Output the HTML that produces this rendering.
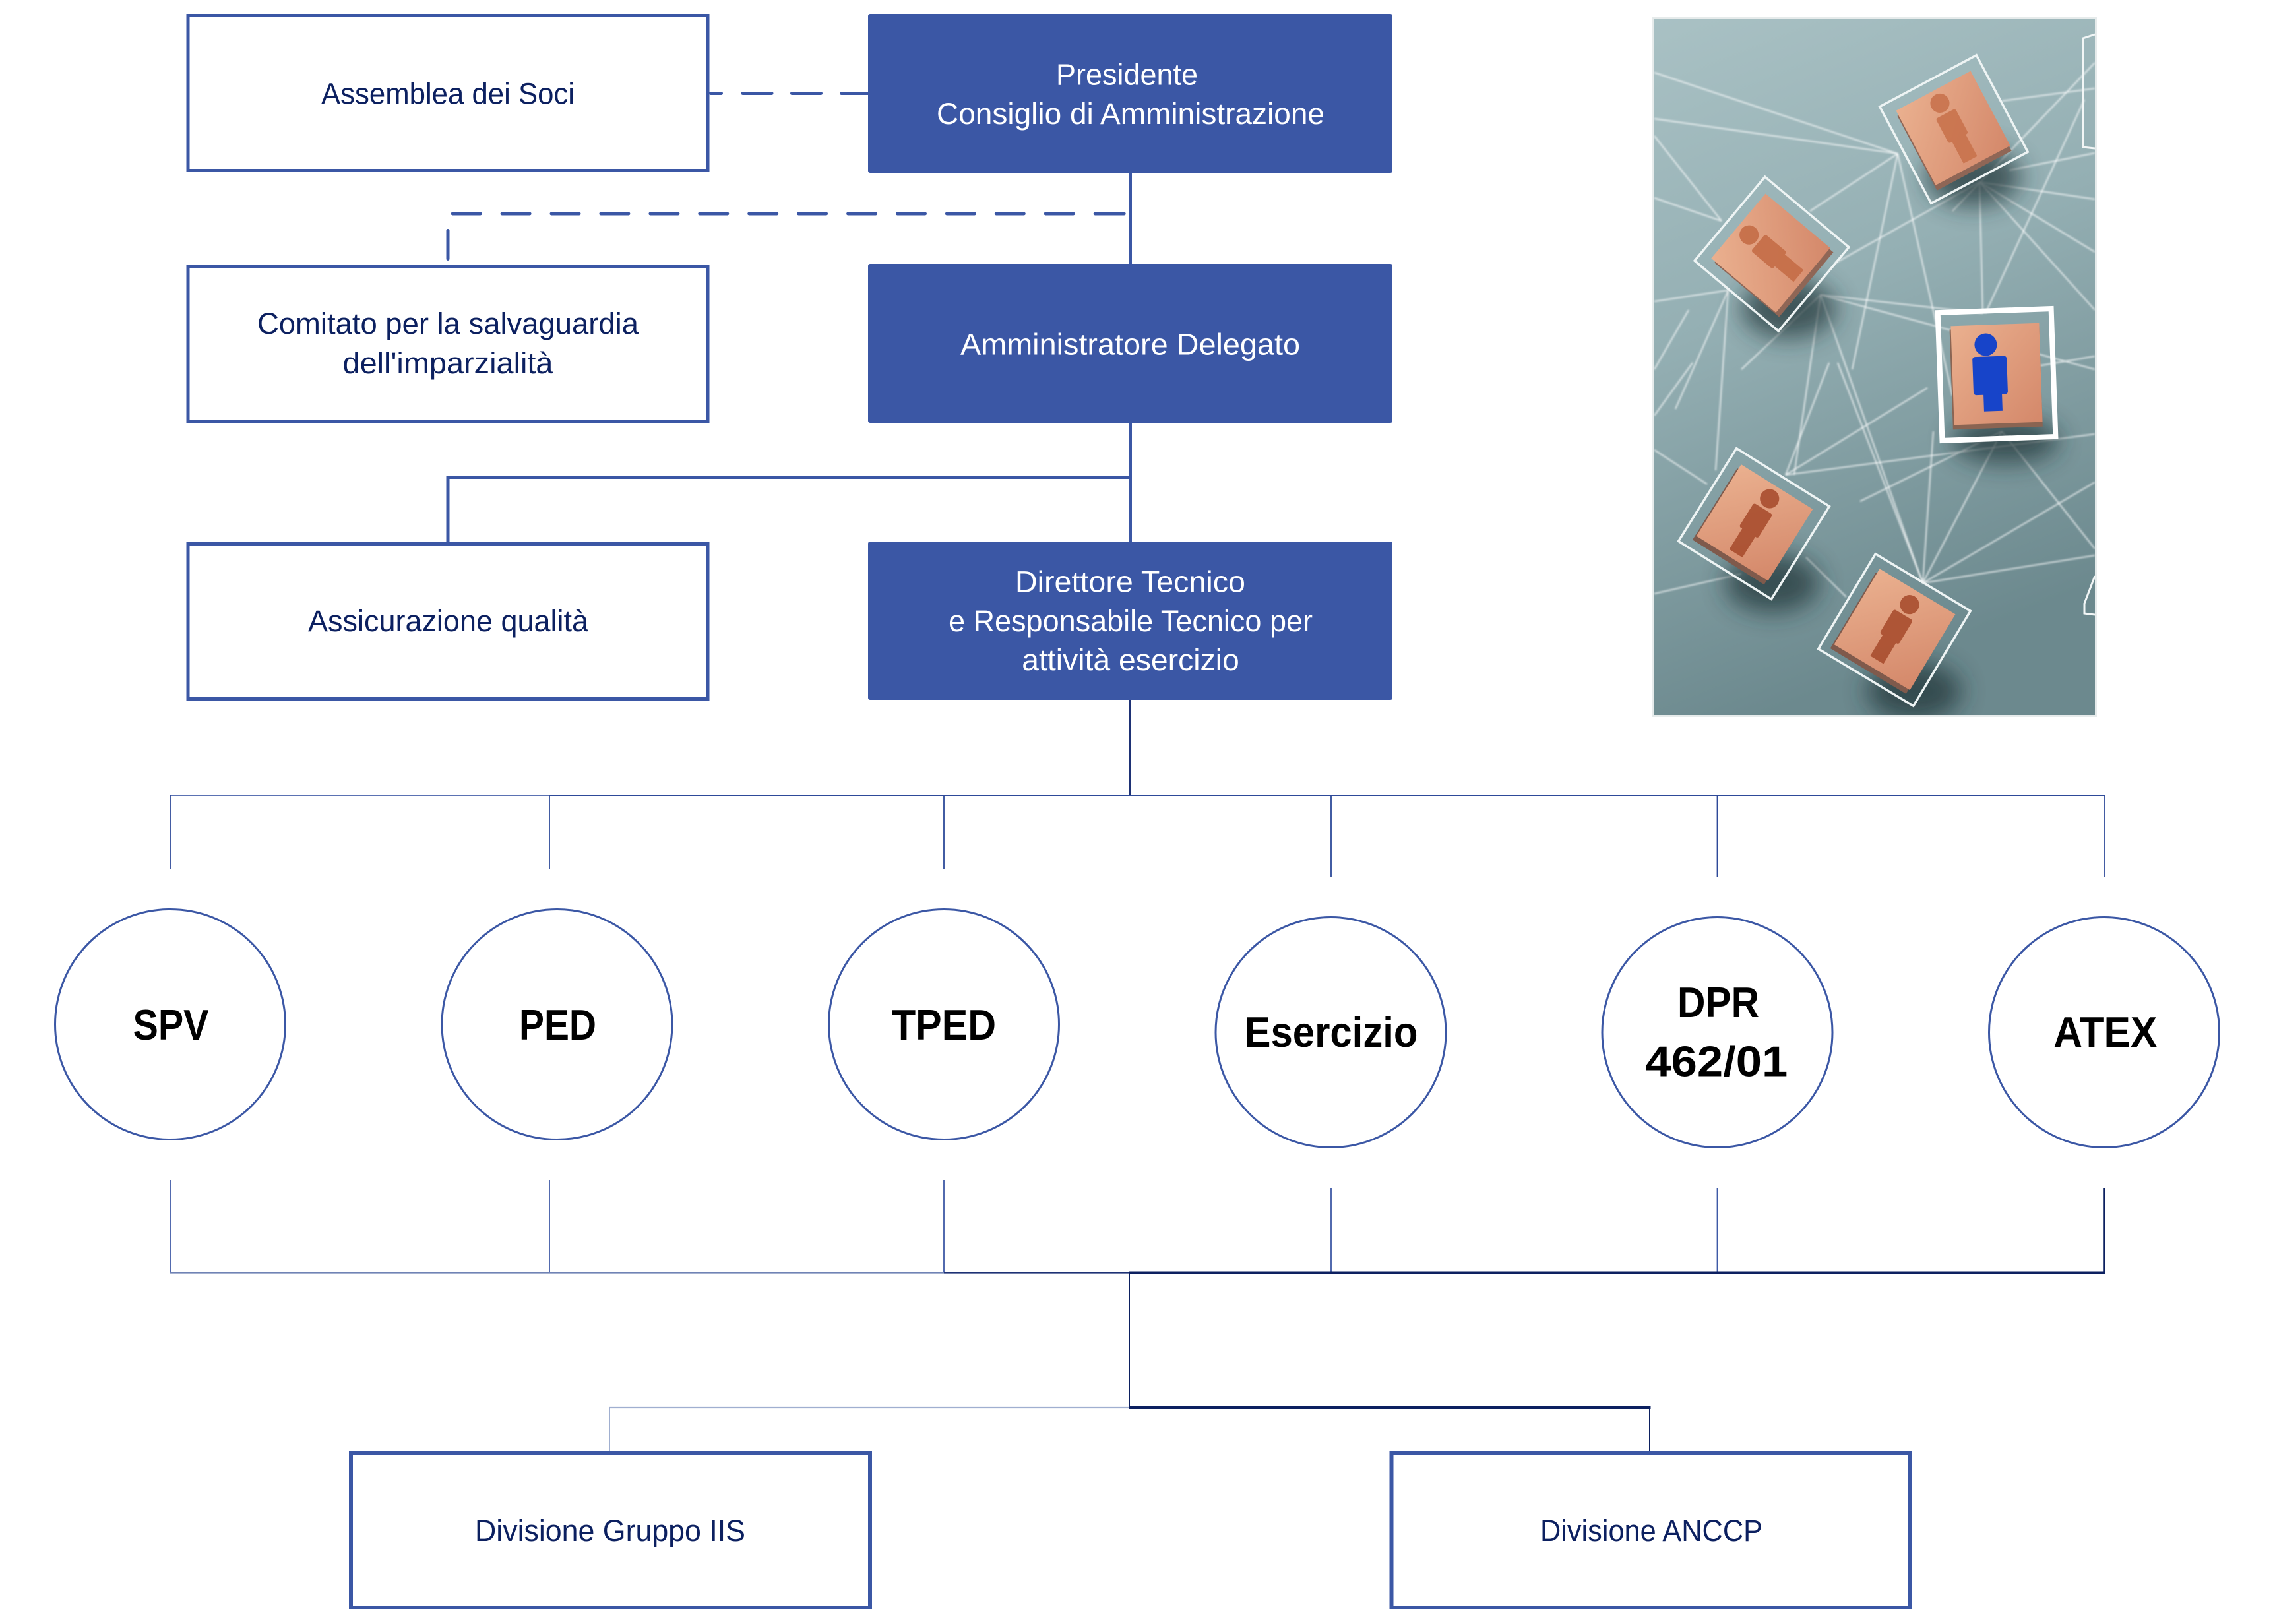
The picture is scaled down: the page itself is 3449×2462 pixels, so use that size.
<!DOCTYPE html>
<html>
<head>
<meta charset="utf-8">
<style>
html,body{margin:0;padding:0;background:#ffffff;}
svg{display:block;}
.r{font-family:"Liberation Sans",Arial,sans-serif;font-size:45px;text-anchor:middle;}
.b{font-family:"Liberation Sans",Arial,sans-serif;font-size:65px;font-weight:bold;text-anchor:middle;fill:#000;}
.nv{fill:#0c2060;}
.wt{fill:#ffffff;}
</style>
</head>
<body>
<svg width="3449" height="2462" viewBox="0 0 3449 2462" xmlns="http://www.w3.org/2000/svg">
<defs>
  <linearGradient id="bg" x1="0" y1="0" x2="0.25" y2="1">
    <stop offset="0" stop-color="#a9c1c4"/>
    <stop offset="0.45" stop-color="#94afb3"/>
    <stop offset="1" stop-color="#6c898e"/>
  </linearGradient>
  <linearGradient id="wood" x1="0" y1="0" x2="1" y2="1">
    <stop offset="0" stop-color="#eab08f"/>
    <stop offset="1" stop-color="#d4886a"/>
  </linearGradient>
  <filter id="blur" x="-50%" y="-50%" width="200%" height="200%">
    <feGaussianBlur stdDeviation="18"/>
  </filter>
  <filter id="soft" x="-20%" y="-20%" width="140%" height="140%">
    <feGaussianBlur stdDeviation="1.2"/>
  </filter>
  <clipPath id="imgclip"><rect x="2508" y="29" width="668" height="1055"/></clipPath>
</defs>

<g stroke="#3b57a5" stroke-width="5" fill="none">
  <line x1="1713.5" y1="260" x2="1713.5" y2="823"/>
  <line x1="679" y1="723.5" x2="1716" y2="723.5"/>
  <line x1="679" y1="721" x2="679" y2="823"/>
</g>
<g stroke="#3b57a5" stroke-width="5" stroke-linecap="round">
  <line x1="1077.5" y1="141.5" x2="1093.5" y2="141.5"/>
  <line x1="1126" y1="141.5" x2="1170" y2="141.5"/>
  <line x1="1200.5" y1="141.5" x2="1244.5" y2="141.5"/>
  <line x1="1275.5" y1="141.5" x2="1318" y2="141.5"/>
</g>
<g stroke="#3b57a5" stroke-width="5" stroke-linecap="round">
  <line x1="686.2" y1="324" x2="728.2" y2="324"/>
  <line x1="761.1" y1="324" x2="803.1" y2="324"/>
  <line x1="836.0" y1="324" x2="878.0" y2="324"/>
  <line x1="910.9" y1="324" x2="952.9" y2="324"/>
  <line x1="985.9" y1="324" x2="1027.9" y2="324"/>
  <line x1="1060.8" y1="324" x2="1102.8" y2="324"/>
  <line x1="1135.7" y1="324" x2="1177.7" y2="324"/>
  <line x1="1210.6" y1="324" x2="1252.6" y2="324"/>
  <line x1="1285.6" y1="324" x2="1327.6" y2="324"/>
  <line x1="1360.5" y1="324" x2="1402.5" y2="324"/>
  <line x1="1435.4" y1="324" x2="1477.4" y2="324"/>
  <line x1="1510.3" y1="324" x2="1552.3" y2="324"/>
  <line x1="1585.2" y1="324" x2="1627.2" y2="324"/>
  <line x1="1660.2" y1="324" x2="1704.2" y2="324"/>
  <line x1="679" y1="349.5" x2="679" y2="392.5"/>
</g>

<g stroke="#3b57a5" stroke-width="5" fill="#ffffff">
  <rect x="285" y="23.5" width="788" height="235"/>
  <rect x="285" y="403.5" width="788" height="235"/>
  <rect x="285" y="824.5" width="788" height="235"/>
</g>
<g fill="#3b57a5">
  <rect x="1316" y="21" width="795" height="241" rx="3"/>
  <rect x="1316" y="400" width="795" height="241" rx="3"/>
  <rect x="1316" y="821" width="795" height="240" rx="3"/>
</g>

<text class="r nv" x="679" y="157.5" textLength="384" lengthAdjust="spacingAndGlyphs">Assemblea dei Soci</text>
<text class="r wt" x="1708.5" y="128.4" textLength="215" lengthAdjust="spacingAndGlyphs">Presidente</text>
<text class="r wt" x="1714" y="188" textLength="588" lengthAdjust="spacingAndGlyphs">Consiglio di Amministrazione</text>
<text class="r nv" x="679" y="506" textLength="578" lengthAdjust="spacingAndGlyphs">Comitato per la salvaguardia</text>
<text class="r nv" x="679" y="566" textLength="319" lengthAdjust="spacingAndGlyphs">dell'imparzialità</text>
<text class="r wt" x="1713.5" y="537.5" textLength="515" lengthAdjust="spacingAndGlyphs">Amministratore Delegato</text>
<text class="r nv" x="679.5" y="957" textLength="425" lengthAdjust="spacingAndGlyphs">Assicurazione qualità</text>
<text class="r wt" x="1713.5" y="897.5" textLength="349" lengthAdjust="spacingAndGlyphs">Direttore Tecnico</text>
<text class="r wt" x="1714" y="957" textLength="552" lengthAdjust="spacingAndGlyphs">e Responsabile Tecnico per</text>
<text class="r wt" x="1714" y="1016" textLength="329.5" lengthAdjust="spacingAndGlyphs">attività esercizio</text>

<line x1="1713" y1="1061" x2="1713" y2="1207" stroke="#1e3275" stroke-width="2.5"/>
<line x1="258" y1="1206" x2="833" y2="1206" stroke="#5b72b3" stroke-width="2"/>
<line x1="833" y1="1206" x2="3191" y2="1206" stroke="#2e4a99" stroke-width="2"/>
<g stroke="#2e4a99" stroke-width="1.8">
  <line x1="258" y1="1205" x2="258" y2="1317"/>
  <line x1="833" y1="1205" x2="833" y2="1317"/>
  <line x1="1431" y1="1205" x2="1431" y2="1317"/>
  <line x1="2018" y1="1205" x2="2018" y2="1329"/>
  <line x1="2603.5" y1="1205" x2="2603.5" y2="1329"/>
  <line x1="3190" y1="1205" x2="3190" y2="1329"/>
</g>

<g stroke="#3b57a5" stroke-width="3" fill="#ffffff">
  <circle cx="258" cy="1553" r="174.5"/>
  <circle cx="844.5" cy="1553" r="174.5"/>
  <circle cx="1431" cy="1553" r="174.5"/>
  <circle cx="2017.5" cy="1565" r="174.5"/>
  <circle cx="2603.5" cy="1565" r="174.5"/>
  <circle cx="3190" cy="1565" r="174.5"/>
</g>
<text class="b" x="259" y="1576" textLength="115" lengthAdjust="spacingAndGlyphs">SPV</text>
<text class="b" x="845.5" y="1576" textLength="117" lengthAdjust="spacingAndGlyphs">PED</text>
<text class="b" x="1431" y="1576" textLength="158" lengthAdjust="spacingAndGlyphs">TPED</text>
<text class="b" x="2018" y="1587" textLength="263" lengthAdjust="spacingAndGlyphs">Esercizio</text>
<text class="b" x="2605" y="1542" textLength="124" lengthAdjust="spacingAndGlyphs">DPR</text>
<text class="b" x="2602.3" y="1631.5" textLength="216" lengthAdjust="spacingAndGlyphs">462/01</text>
<text class="b" x="3191.8" y="1587" textLength="157" lengthAdjust="spacingAndGlyphs">ATEX</text>

<g stroke="#3f5aa6" stroke-width="1.8">
  <line x1="258" y1="1789" x2="258" y2="1929"/>
  <line x1="833" y1="1789" x2="833" y2="1929"/>
  <line x1="1431" y1="1789" x2="1431" y2="1929"/>
  <line x1="2018" y1="1801" x2="2018" y2="1929"/>
  <line x1="2603.5" y1="1801" x2="2603.5" y2="1929"/>
</g>
<line x1="3190" y1="1801" x2="3190" y2="1931" stroke="#0c2060" stroke-width="3.5"/>
<line x1="258" y1="1929.5" x2="1431" y2="1929.5" stroke="#7083b5" stroke-width="2.2"/>
<line x1="1431" y1="1929.5" x2="1712" y2="1929.5" stroke="#1e3275" stroke-width="2.2"/>
<line x1="1711" y1="1929.5" x2="3191.7" y2="1929.5" stroke="#0c2060" stroke-width="4"/>
<line x1="1712" y1="1929" x2="1712" y2="2135" stroke="#0c2060" stroke-width="2"/>
<line x1="924" y1="2134" x2="1712" y2="2134" stroke="#a0afd0" stroke-width="2.2"/>
<line x1="1711" y1="2134" x2="2502.5" y2="2134" stroke="#0c2060" stroke-width="4"/>
<line x1="924" y1="2133" x2="924" y2="2201" stroke="#a0afd0" stroke-width="2"/>
<line x1="2501" y1="2133" x2="2501" y2="2204" stroke="#0c2060" stroke-width="2"/>

<g stroke="#3b57a5" stroke-width="6" fill="#ffffff">
  <rect x="532" y="2203" width="787" height="234"/>
  <rect x="2109.5" y="2203" width="786.5" height="234"/>
</g>
<text class="r nv" x="925" y="2336" textLength="410" lengthAdjust="spacingAndGlyphs">Divisione Gruppo IIS</text>
<text class="r nv" x="2503.5" y="2336" textLength="337" lengthAdjust="spacingAndGlyphs">Divisione ANCCP</text>

<rect x="2505" y="26" width="674" height="1061" fill="#e6ebeb"/>
<g clip-path="url(#imgclip)">
  <rect x="2508" y="29" width="668" height="1055" fill="url(#bg)"/>
  <g stroke="#ffffff" stroke-opacity="0.75" stroke-width="2" fill="none" filter="url(#soft)">
    <line x1="2508" y1="180" x2="2877" y2="233"/>
    <line x1="2508" y1="206" x2="2610" y2="335"/>
    <line x1="2508" y1="300" x2="2610" y2="335"/>
    <line x1="2744" y1="320" x2="2877" y2="233"/>
    <line x1="2877" y1="233" x2="2808" y2="560"/>
    <line x1="2877" y1="233" x2="2960" y2="600"/>
    <line x1="3001" y1="276" x2="2782" y2="399"/>
    <line x1="3001" y1="276" x2="3006" y2="475"/>
    <line x1="3001" y1="276" x2="3176" y2="302"/>
    <line x1="3001" y1="276" x2="3176" y2="382"/>
    <line x1="3001" y1="276" x2="3176" y2="470"/>
    <line x1="3035" y1="153" x2="3176" y2="134"/>
    <line x1="3046" y1="258" x2="3176" y2="232"/>
    <line x1="3160" y1="151" x2="3010" y2="475"/>
    <line x1="2760" y1="447" x2="3006" y2="475"/>
    <line x1="2760" y1="447" x2="3176" y2="560"/>
    <line x1="2760" y1="447" x2="2720" y2="720"/>
    <line x1="2760" y1="447" x2="2915" y2="884"/>
    <line x1="2760" y1="447" x2="2640" y2="560"/>
    <line x1="2508" y1="457" x2="2620" y2="440"/>
    <line x1="2620" y1="440" x2="2540" y2="620"/>
    <line x1="2620" y1="440" x2="2601" y2="713"/>
    <line x1="2508" y1="682" x2="2588" y2="734"/>
    <line x1="2508" y1="630" x2="2566" y2="550"/>
    <line x1="2707" y1="720" x2="2773" y2="550"/>
    <line x1="2707" y1="720" x2="2922" y2="588"/>
    <line x1="2707" y1="720" x2="3176" y2="658"/>
    <line x1="2915" y1="884" x2="2786" y2="550"/>
    <line x1="2915" y1="884" x2="3035" y2="654"/>
    <line x1="2915" y1="884" x2="3176" y2="842"/>
    <line x1="2915" y1="884" x2="3176" y2="731"/>
    <line x1="2915" y1="884" x2="2931" y2="654"/>
    <line x1="3035" y1="654" x2="3176" y2="832"/>
    <line x1="3035" y1="654" x2="2820" y2="760"/>
    <line x1="2738" y1="845" x2="2799" y2="905"/>
    <line x1="3060" y1="560" x2="3176" y2="540"/>
    <line x1="2508" y1="560" x2="2560" y2="470"/>
    <line x1="2508" y1="110" x2="2877" y2="233"/>
    <line x1="2960" y1="320" x2="3176" y2="95"/>
    <line x1="2508" y1="900" x2="2640" y2="870"/>
  </g>
  <g stroke="#f2f6f6" stroke-width="3" fill="none">
    <polyline points="3176,52 3158,58 3158,223 3176,225"/>
    <polyline points="3176,873 3160,915 3160,930 3176,932"/>
  </g>
  <g fill="#1d3236" opacity="0.7" filter="url(#blur)">
    <ellipse cx="2992" cy="268" rx="72" ry="45"/>
    <ellipse cx="2712" cy="468" rx="72" ry="45"/>
    <ellipse cx="3040" cy="668" rx="82" ry="35"/>
    <ellipse cx="2687" cy="884" rx="72" ry="45"/>
    <ellipse cx="2902" cy="1048" rx="72" ry="45"/>
  </g>

  <g transform="translate(2962,196) rotate(-28)">
    <rect x="-83" y="-83" width="166" height="166" fill="none" stroke="#eef4f4" stroke-width="3.5"/>
    <rect x="-66" y="-58" width="128" height="128" fill="#8f6656"/>
    <rect x="-64" y="-66" width="128" height="128" fill="url(#wood)"/>
    <g fill="#c9734d" opacity="0.9" transform="scale(1.12)">
      <circle cx="0" cy="-40" r="13"/>
      <rect x="-15" y="-24" width="30" height="38" rx="3"/>
      <rect x="-10" y="12" width="21" height="35"/>
    </g>
  </g>
  <g transform="translate(2686,385) rotate(-50)">
    <rect x="-83" y="-83" width="166" height="166" fill="none" stroke="#eef4f4" stroke-width="3.5"/>
    <rect x="-66" y="-58" width="128" height="128" fill="#8f6656"/>
    <rect x="-64" y="-66" width="128" height="128" fill="url(#wood)"/>
    <g fill="#c56d47" opacity="0.9" transform="scale(1.12)">
      <circle cx="0" cy="-40" r="13"/>
      <rect x="-15" y="-24" width="30" height="38" rx="3"/>
      <rect x="-10" y="12" width="21" height="35"/>
    </g>
  </g>
  <g transform="translate(3027,567) rotate(-2)">
    <rect x="-86" y="-96" width="172" height="194" fill="none" stroke="#ffffff" stroke-width="8"/>
    <rect x="-69" y="-70" width="136" height="152" fill="#8a6452"/>
    <rect x="-67" y="-75" width="134" height="150" fill="url(#wood)"/>
    <g fill="#1744c9">
      <circle cx="-15" cy="-45" r="17"/>
      <rect x="-36" y="-27" width="52" height="58" rx="4"/>
      <rect x="-21" y="30" width="28" height="26"/>
    </g>
  </g>
  <g transform="translate(2659,794) rotate(32)">
    <rect x="-83" y="-83" width="166" height="166" fill="none" stroke="#eef4f4" stroke-width="3.5"/>
    <rect x="-66" y="-58" width="128" height="128" fill="#7f5a4c"/>
    <rect x="-64" y="-66" width="128" height="128" fill="url(#wood)"/>
    <g fill="#a94e2f" opacity="0.9" transform="scale(1.12)">
      <circle cx="0" cy="-40" r="13"/>
      <rect x="-15" y="-24" width="30" height="38" rx="3"/>
      <rect x="-10" y="12" width="21" height="35"/>
    </g>
  </g>
  <g transform="translate(2872,955) rotate(31)">
    <rect x="-84" y="-84" width="168" height="168" fill="none" stroke="#eef4f4" stroke-width="3.5"/>
    <rect x="-69" y="-60" width="134" height="134" fill="#7f5a4c"/>
    <rect x="-67" y="-68" width="134" height="134" fill="url(#wood)"/>
    <g fill="#a94e2f" opacity="0.9" transform="scale(1.12)">
      <circle cx="0" cy="-40" r="13"/>
      <rect x="-15" y="-24" width="30" height="38" rx="3"/>
      <rect x="-10" y="12" width="21" height="35"/>
    </g>
  </g>
</g>
</svg>
</body>
</html>
